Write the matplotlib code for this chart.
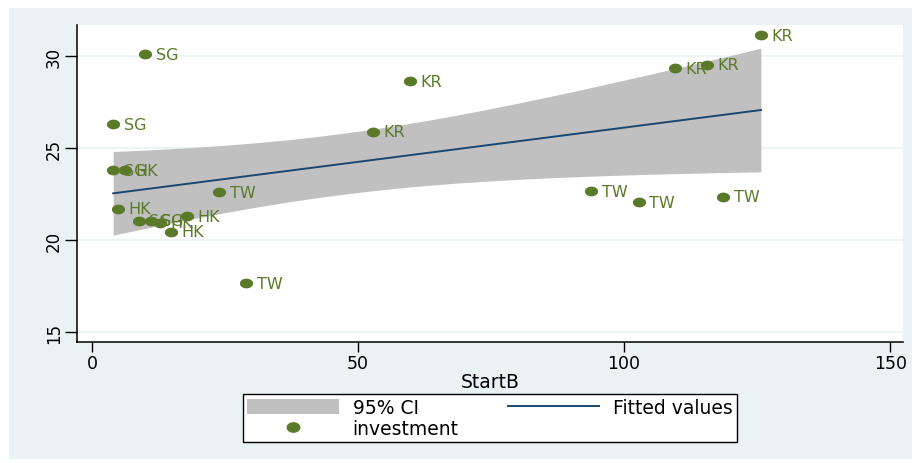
import numpy as np
import matplotlib
matplotlib.use("Agg")
import matplotlib.pyplot as plt
from matplotlib.patches import Patch, Rectangle
from matplotlib.lines import Line2D
from matplotlib.path import Path

# ==============================
# data
# ==============================
country = ["KR", "SG", "KR", "KR", "KR", "SG", "KR", "SG", "HK", "TW",
           "HK", "TW", "TW", "TW", "HK", "SG", "SG", "HK", "HK", "TW"]
startb = [125.7, 10.0, 59.8, 109.6, 115.6, 4.0, 52.8, 4.0, 6.2, 23.9,
          4.9, 93.8, 102.8, 118.6, 17.9, 8.8, 11.1, 12.8, 14.9, 29.0]
investment = [31.15, 30.1, 28.65, 29.35, 29.55, 26.3, 25.9, 23.8, 23.8, 22.6,
              21.7, 22.65, 22.05, 22.35, 21.3, 21.05, 21.05, 20.95, 20.45, 17.65]
xticks = [0, 50, 100, 150]
yticks = [15, 20, 25, 30]

# ==============================
# linear fit + 95% CI (like Stata lfitci)
# ==============================
x = np.array(startb)
y = np.array(investment)
n = len(x)
b, a = np.polyfit(x, y, 1)
resid = y - (a + b * x)
s = np.sqrt(np.sum(resid ** 2) / (n - 2))
sxx = np.sum((x - x.mean()) ** 2)
t_crit = 2.101  # t(0.975, df=18)
xg = np.linspace(x.min(), x.max(), 100)
fit = a + b * xg
se = s * np.sqrt(1 / n + (xg - x.mean()) ** 2 / sxx)
lo, hi = fit - t_crit * se, fit + t_crit * se

# ==============================
# plot
# ==============================
green = "#5a7a2a"
navy = "#1a476f"
bg = "#eaf2f3"

# the original image is stretched sideways -> slightly flattened dots
th = np.linspace(0, 2 * np.pi, 60)
ellipse = Path(np.column_stack([1.35 * np.cos(th), np.sin(th)]), closed=True)

plt.rcParams["font.family"] = ["DejaVu Sans"]
fig = plt.figure(figsize=(9.14, 4.64), dpi=100)
fig.patch.set_facecolor("white")
fig.patches.append(Rectangle((9 / 914, 4 / 464), 903 / 914, 451 / 464,
                             transform=fig.transFigure, facecolor=bg,
                             edgecolor="none", zorder=-5))

ax = fig.add_axes([77 / 914, 1 - 343 / 464, 826 / 914, 317 / 464])
ax.set_zorder(1)
ax.set_facecolor("white")

for yt in yticks:
    ax.axhline(yt, color=bg, lw=1.2, zorder=1)

ax.fill_between(xg, lo, hi, color="#c0c0c0", lw=0, zorder=2)
ax.plot(xg, fit, color=navy, lw=1.4, zorder=3)
ax.scatter(x, y, s=90, marker=ellipse, color=green, zorder=4, lw=0)
for xi, yi, c in zip(x, y, country):
    ax.annotate(c, (xi, yi), xytext=(7.5, 0), textcoords="offset points",
                va="center", ha="left", color=green, fontsize=11.5, zorder=5)

ax.set_xlim(-2.8, 152.4)
ax.set_ylim(14.46, 31.7)
ax.set_xticks(xticks)
ax.set_yticks(yticks)
ax.tick_params(axis="x", labelsize=12.5, length=7, width=1, pad=2, color="black")
ax.tick_params(axis="y", labelsize=12, length=9, width=1, pad=1)
plt.setp(ax.get_yticklabels(), rotation=90, va="center")
for sp in ["top", "right"]:
    ax.spines[sp].set_visible(False)
for sp in ["left", "bottom"]:
    ax.spines[sp].set_linewidth(1.1)
ax.set_xlabel("StartB", fontsize=13.5, labelpad=0)

handles = [Patch(facecolor="#c0c0c0", edgecolor="none"),
           Line2D([], [], marker=ellipse, ls="none", color=green, markersize=9),
           Line2D([], [], color=navy, lw=1.4)]
labels = ["95% CI", "investment", "Fitted values"]
leg = fig.legend(handles, labels, ncol=2, loc="center",
                 bbox_to_anchor=(490 / 914, 1 - 419 / 464),
                 fontsize=13.5, frameon=True, fancybox=False, framealpha=1,
                 edgecolor="black", handlelength=4.9, handleheight=0.85,
                 columnspacing=2.6, handletextpad=0.75, labelspacing=0.12,
                 borderpad=0.22, borderaxespad=0)
leg.get_frame().set_linewidth(1)

fig.savefig("out.png", dpi=100, facecolor="white")
